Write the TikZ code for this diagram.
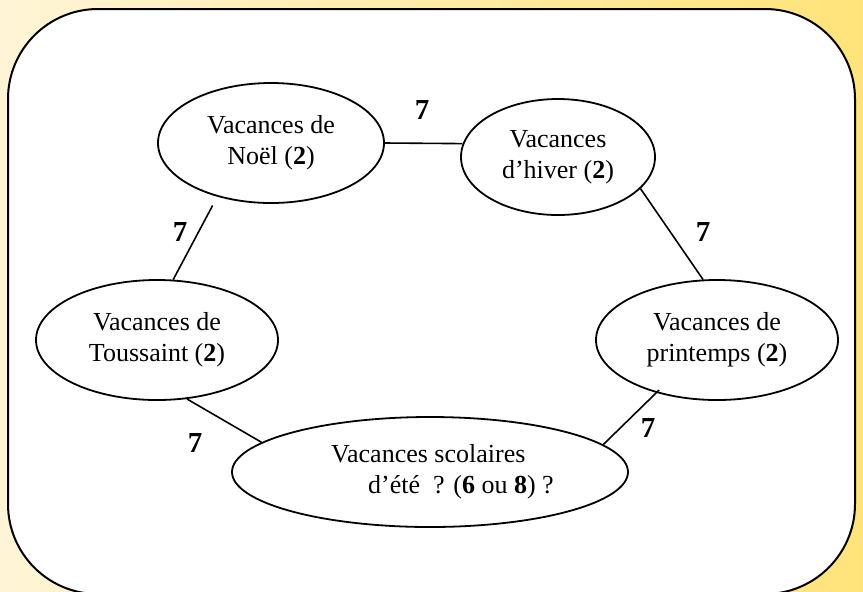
\documentclass[tikz,border=0pt]{standalone}
\usepackage{fontspec}
\setmainfont{Liberation Serif}
\usetikzlibrary{shapes.geometric}
\definecolor{fondgauche}{RGB}{255,245,214}
\definecolor{fonddroite}{RGB}{255,227,122}
\begin{document}
\begin{tikzpicture}[
	x = 0.5pt,%ein Pixel der Vorlage
	y = -0.5pt,
	vacances/.style = {draw, ellipse, line width=0.9pt, inner sep=0pt,
		font=\fontsize{13}{15.5}\selectfont},
	semaines/.style = {inner sep=0pt, font=\fontsize{14.5}{16}\selectfont\bfseries},
	lien/.style = {line width=0.8pt}
]
%
\useasboundingbox (0,0) rectangle (863,591);
\clip (0,0) rectangle (863,591);
\shade[left color=fondgauche, right color=fonddroite] (0,0) rectangle (863,591);
\draw[fill=white, line width=1pt, rounded corners=45pt] (8,9) rectangle (855,594);
%
\node(v_noel)%
    [vacances, align=center, minimum width=113pt, minimum height=60pt]%
    at (271,143) {Vacances de\\Noël (\textbf{2})};%
\node(v_hiver)%
    [vacances, align=center, minimum width=97pt, minimum height=58pt]%
    at (558,157) {Vacances\\d’hiver (\textbf{2})};%
\node(v_toussaint)%
    [vacances, align=center, minimum width=121pt, minimum height=60pt]%
    at (157,340) {Vacances de\\Toussaint (\textbf{2})};%
\node(v_printemps)%
    [vacances, align=center, minimum width=121pt, minimum height=60pt]%
    at (717,340) {Vacances de\\printemps (\textbf{2})};%
\node(v_ete)%
    [vacances, align=left, minimum width=198pt, minimum height=55pt]%
    at (430,472) {\hspace*{12.5pt}Vacances scolaires\\%
    \hspace*{31pt}d’été\ \ ? (\textbf{6} ou \textbf{8}) ?};%
%
\node(s_noel_hiver) [semaines] at (422,110) {7};%
\node(s_hiver_printemps) [semaines] at (703,232) {7};%
\node(s_noel_toussaint) [semaines] at (180,232) {7};%
\node(s_toussaint_ete) [semaines] at (195,443) {7};%
\node(s_printemps_ete) [semaines] at (648,428) {7};%
%
\draw[lien] (v_noel.east) -- (v_hiver.172);
\draw[lien] (v_hiver.-21) -- (v_printemps.103);
\draw[lien, shorten <=5pt] (v_noel.225) -- (v_toussaint.75);
\draw[lien] (v_toussaint.-63) -- (v_ete.170);
\draw[lien, shorten <=-2pt] (v_printemps.221) -- (v_ete.9);
%
\end{tikzpicture}
\end{document}
